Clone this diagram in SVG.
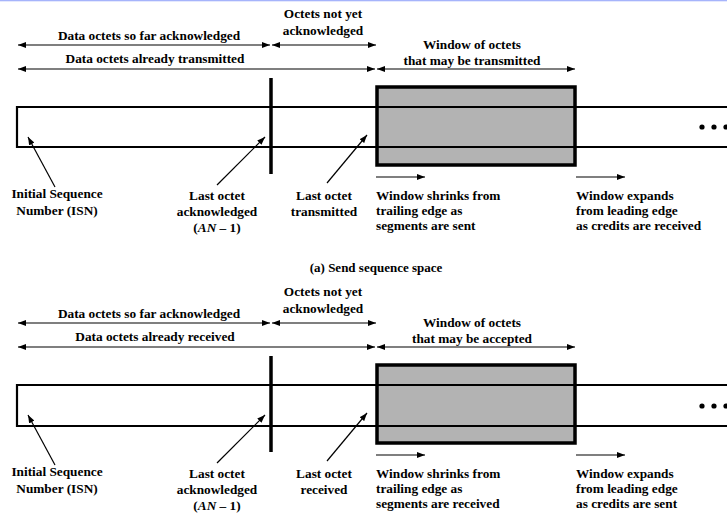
<svg xmlns="http://www.w3.org/2000/svg" width="727" height="515" viewBox="0 0 727 515">
<defs>
<marker id="ah" markerUnits="userSpaceOnUse" markerWidth="8" markerHeight="6" refX="8" refY="3" orient="auto-start-reverse"><path d="M0,0 L8,3 L0,6 z" fill="#000"/></marker>
<style>
text{font-family:'Liberation Serif','Times New Roman','DejaVu Serif',serif;font-weight:bold;font-size:13.3px;fill:#000}
.c{text-anchor:middle}
.dim{stroke:#000;stroke-width:1.2;fill:none;marker-start:url(#ah);marker-end:url(#ah)}
.ptr{stroke:#000;stroke-width:1.2;fill:none;marker-end:url(#ah)}
.bar{stroke:#000;stroke-width:2.2;fill:none}
.win{fill:#b3b3b3;stroke:#000;stroke-width:3.5}
.tick{stroke:#000;stroke-width:3.5}
</style>
</defs>
<rect x="0" y="0" width="727" height="1.3" fill="#a6b4fb"/>

<g id="send">
 <g id="send-window"><rect class="win" x="377" y="87" width="198" height="78"/></g>
 <g id="send-bar"><path class="bar" d="M729,107 H17 V147 H729"/></g>
 <g id="send-ack-line"><line class="tick" x1="271" y1="78" x2="271" y2="174"/></g>
 <g id="send-dots"><circle cx="702" cy="127" r="2.6"/><circle cx="714" cy="127" r="2.6"/><circle cx="726" cy="127" r="2.6"/></g>
 <g id="send-labels">
  <text class="c" x="149" y="40">Data octets so far acknowledged</text>
  <text class="c" x="323" y="18">Octets not yet</text>
  <text class="c" x="323" y="35">acknowledged</text>
  <text class="c" x="155" y="63">Data octets already transmitted</text>
  <text class="c" x="472" y="49">Window of octets</text>
  <text class="c" x="472" y="65">that may be transmitted</text>
  <text class="c" x="57" y="198">Initial Sequence</text>
  <text class="c" x="57" y="215">Number (ISN)</text>
  <text class="c" x="217" y="200">Last octet</text>
  <text class="c" x="217" y="216">acknowledged</text>
  <text class="c" x="217" y="232">(<tspan font-style="italic">AN</tspan> – 1)</text>
  <text class="c" x="324" y="200">Last octet</text>
  <text class="c" x="324" y="216">transmitted</text>
  <text x="376" y="200">Window shrinks from</text>
  <text x="376" y="215">trailing edge as</text>
  <text x="376" y="230">segments are sent</text>
  <text x="576" y="200">Window expands</text>
  <text x="576" y="215">from leading edge</text>
  <text x="576" y="230">as credits are received</text>
  <text class="c" x="376" y="272" style="font-size:13px">(a) Send sequence space</text>
 </g>
</g>

<g id="recv">
 <g id="recv-window"><rect class="win" x="377" y="365" width="198" height="78"/></g>
 <g id="recv-bar"><path class="bar" d="M729,385 H17 V426 H729"/></g>
 <g id="recv-ack-line"><line class="tick" x1="271" y1="356" x2="271" y2="452"/></g>
 <g id="recv-dots"><circle cx="702" cy="406" r="2.6"/><circle cx="714" cy="406" r="2.6"/><circle cx="726" cy="406" r="2.6"/></g>
 <g id="recv-labels">
  <text class="c" x="149" y="318">Data octets so far acknowledged</text>
  <text class="c" x="323" y="296">Octets not yet</text>
  <text class="c" x="323" y="313">acknowledged</text>
  <text class="c" x="155" y="341">Data octets already received</text>
  <text class="c" x="472" y="327">Window of octets</text>
  <text class="c" x="472" y="343">that may be accepted</text>
  <text class="c" x="57" y="476">Initial Sequence</text>
  <text class="c" x="57" y="493">Number (ISN)</text>
  <text class="c" x="217" y="478">Last octet</text>
  <text class="c" x="217" y="494">acknowledged</text>
  <text class="c" x="217" y="510">(<tspan font-style="italic">AN</tspan> – 1)</text>
  <text class="c" x="324" y="478">Last octet</text>
  <text class="c" x="324" y="494">received</text>
  <text x="376" y="478">Window shrinks from</text>
  <text x="376" y="493">trailing edge as</text>
  <text x="376" y="508">segments are received</text>
  <text x="576" y="478">Window expands</text>
  <text x="576" y="493">from leading edge</text>
  <text x="576" y="508">as credits are sent</text>
 </g>
</g>

<g id="connectors">
 <line class="dim" x1="18" y1="45" x2="270" y2="45"/>
 <line class="dim" x1="272" y1="45" x2="376" y2="45"/>
 <line class="dim" x1="18" y1="69" x2="375" y2="69"/>
 <line class="dim" x1="377" y1="69" x2="575" y2="69"/>
 <line class="ptr" x1="55" y1="187" x2="28" y2="137"/>
 <line class="ptr" x1="217" y1="185" x2="265" y2="137"/>
 <line class="ptr" x1="327" y1="183" x2="367" y2="135"/>
 <line class="ptr" x1="376" y1="177" x2="425" y2="177"/>
 <line class="ptr" x1="576" y1="177" x2="625" y2="177"/>

 <line class="dim" x1="18" y1="323" x2="270" y2="323"/>
 <line class="dim" x1="272" y1="323" x2="376" y2="323"/>
 <line class="dim" x1="18" y1="347" x2="375" y2="347"/>
 <line class="dim" x1="377" y1="347" x2="575" y2="347"/>
 <line class="ptr" x1="55" y1="465" x2="28" y2="415"/>
 <line class="ptr" x1="217" y1="463" x2="265" y2="415"/>
 <line class="ptr" x1="327" y1="461" x2="367" y2="413"/>
 <line class="ptr" x1="376" y1="455" x2="425" y2="455"/>
 <line class="ptr" x1="576" y1="455" x2="625" y2="455"/>
</g>
</svg>
